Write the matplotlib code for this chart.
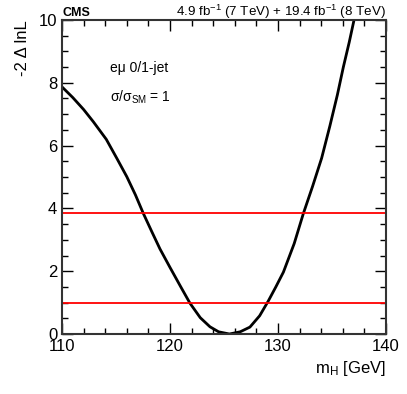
import numpy as np
import matplotlib
matplotlib.use('Agg')
import matplotlib.pyplot as plt
from matplotlib.ticker import MultipleLocator

plt.rcParams['font.family'] = ['Liberation Sans', 'DejaVu Sans']
plt.rcParams['mathtext.fontset'] = 'custom'
plt.rcParams['mathtext.rm'] = 'Liberation Sans'
plt.rcParams['mathtext.it'] = 'Liberation Sans'

# 似然扫描曲线
mass = [110.0, 111.0, 112.0, 112.9, 114.1, 115.1, 116.0, 116.8, 117.53,
        118.3, 119.07, 120.0, 121.0, 121.85, 122.8, 123.7, 124.5, 125.5,
        126.5, 127.4, 128.3, 129.1, 129.8, 130.5, 131.5, 132.35, 133.2,
        134.04, 134.8, 135.5, 136.05, 136.6, 137.04, 137.3]
nll = [7.87, 7.53, 7.15, 6.76, 6.20, 5.58, 5.01, 4.43, 3.84,
       3.27, 2.71, 2.12, 1.50, 0.98, 0.52, 0.23, 0.07, 0.0,
       0.07, 0.22, 0.58, 1.05, 1.50, 1.97, 2.88, 3.84, 4.70,
       5.60, 6.62, 7.62, 8.50, 9.30, 10.0, 10.4]
# 置信水平线
cl_levels = [1.0, 3.84]

fig = plt.figure(figsize=(4.07, 3.94), dpi=100)
ax = fig.add_axes([62/407, 1-334/394, 324/407, 314/394])

ax.plot(mass, nll, color='black', lw=2.0, solid_joinstyle='round')
for lvl in cl_levels:
    ax.axhline(lvl, color='#ff0000', lw=1.3)

ax.set_xlim(110, 140)
ax.set_ylim(0, 10)
ax.xaxis.set_major_locator(MultipleLocator(10))
ax.xaxis.set_minor_locator(MultipleLocator(2))
ax.yaxis.set_major_locator(MultipleLocator(2))
ax.yaxis.set_minor_locator(MultipleLocator(0.5))
ax.tick_params(which='both', direction='in', top=True, right=True,
               labelsize=12, width=1)
ax.tick_params(which='major', length=8)
ax.tick_params(which='minor', length=4)
for s in ax.spines.values():
    s.set_linewidth(1.5)
    s.set_color('#333333')

ax.set_xlabel('m$_\\mathregular{H}$ [GeV]', fontsize=12, loc='right')
ax.set_ylabel('-2 Δ lnL', fontsize=12, loc='top', labelpad=6)

fig.text(62/407, 1-16/394, 'CMS', fontsize=9, fontweight='bold', va='baseline')
fig.text(386/407, 1-16/394,
         '4.9 fb$^{\\mathregular{-1}}$ (7 TeV) + 19.4 fb$^{\\mathregular{-1}}$ (8 TeV)',
         fontsize=9.6, ha='right', va='baseline')

ax.text(114.4, 8.47, 'eμ 0/1-jet', fontsize=10, va='center')
ax.text(114.4, 7.55, 'σ/σ$_\\mathregular{SM}$ = 1', fontsize=10, va='center')

fig.savefig('out.png', dpi=100)
